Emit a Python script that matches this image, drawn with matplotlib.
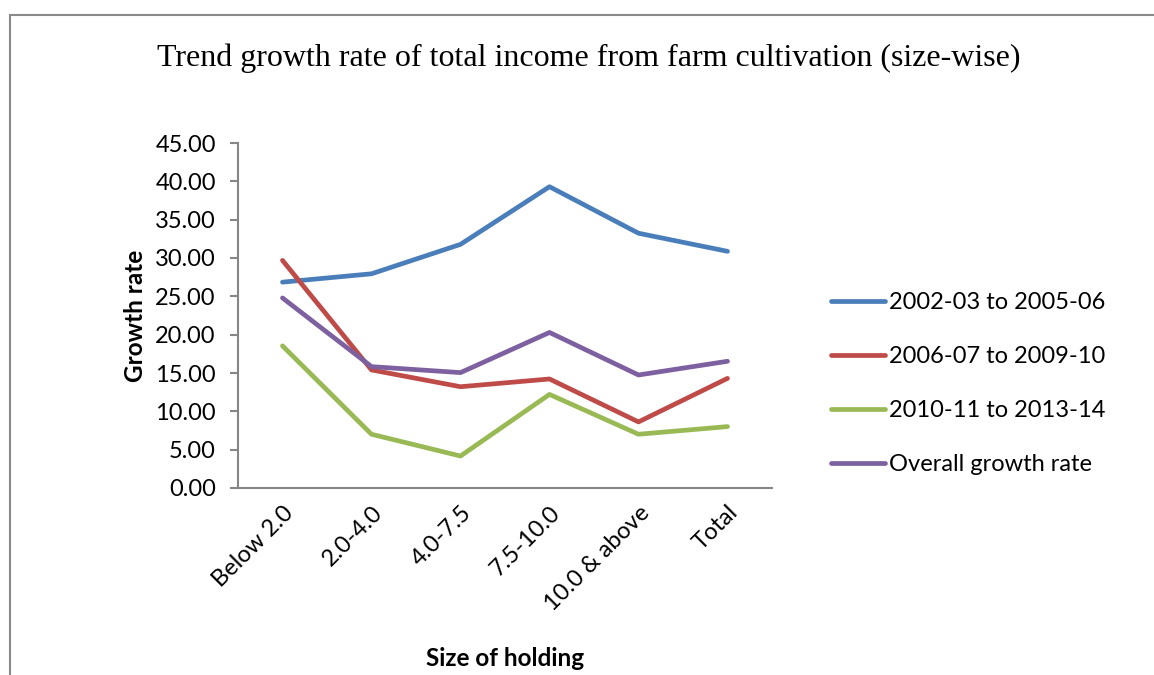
import matplotlib.pyplot as plt
from matplotlib.patches import Rectangle

# growth rates by size of holding
holdings = ['Below 2.0', '2.0-4.0', '4.0-7.5', '7.5-10.0', '10.0 & above', 'Total']
p1 = [26.85, 27.94, 31.78, 39.30, 33.23, 30.87]   # 2002-03 to 2005-06
p2 = [29.69, 15.40, 13.21, 14.22, 8.62, 14.30]    # 2006-07 to 2009-10
p3 = [18.54, 7.01, 4.17, 12.21, 7.01, 8.01]       # 2010-11 to 2013-14
overall = [24.79, 15.83, 15.05, 20.29, 14.74, 16.53]

series = [
    ('2002-03 to 2005-06', p1, '#4A7EBB'),
    ('2006-07 to 2009-10', p2, '#BE4B48'),
    ('2010-11 to 2013-14', p3, '#98B954'),
    ('Overall growth rate', overall, '#7D60A0'),
]

plt.rcParams['font.family'] = ['Lato', 'DejaVu Sans']
axis_grey = '#868686'

fig = plt.figure(figsize=(11.54, 6.75), dpi=100)
fig.patches.append(Rectangle((10 / 1154, -0.1), 1.2, 1 - 15 / 675 + 0.1,
                             transform=fig.transFigure, fill=False,
                             edgecolor='#898989', linewidth=1.5))

ax = fig.add_axes([238 / 1154, 1 - 488 / 675, 534 / 1154, 345 / 675])
x = range(len(holdings))
for name, vals, col in series:
    ax.plot(x, vals, color=col, lw=3.4, label=name,
            solid_capstyle='round', solid_joinstyle='round')

ax.set_xlim(-0.5, len(holdings) - 0.5)
ax.set_ylim(0, 45)
ax.set_yticks(range(0, 50, 5))
ax.set_yticklabels(['%.2f' % v for v in range(0, 50, 5)])
ax.set_xticks(list(x))
ax.set_xticklabels(holdings, rotation=45, ha='right', rotation_mode='anchor')

for side in ['top', 'right']:
    ax.spines[side].set_visible(False)
for side in ['left', 'bottom']:
    ax.spines[side].set_color(axis_grey)
    ax.spines[side].set_linewidth(1.5)
ax.tick_params(axis='y', length=6, width=1.5, color=axis_grey, pad=10,
               labelsize=17)
ax.tick_params(axis='x', length=0, pad=10, labelsize=17)

ax.set_ylabel('Growth rate', fontsize=17.5, fontweight='bold', labelpad=6)
ax.set_xlabel('Size of holding', fontsize=17.5, fontweight='bold', labelpad=23)

fig.text(589 / 1154, 1 - 58 / 675,
         'Trend growth rate of total income from farm cultivation (size-wise)',
         family='Liberation Serif', fontsize=23, ha='center', va='center')

ax.legend(loc='center left', bbox_to_anchor=(831 / 1154, 1 - 383.5 / 675),
          bbox_transform=fig.transFigure, frameon=False, fontsize=17,
          handlelength=2.3, handletextpad=0.15, labelspacing=1.4,
          borderpad=0, borderaxespad=0)

fig.savefig('out.png', dpi=100)
